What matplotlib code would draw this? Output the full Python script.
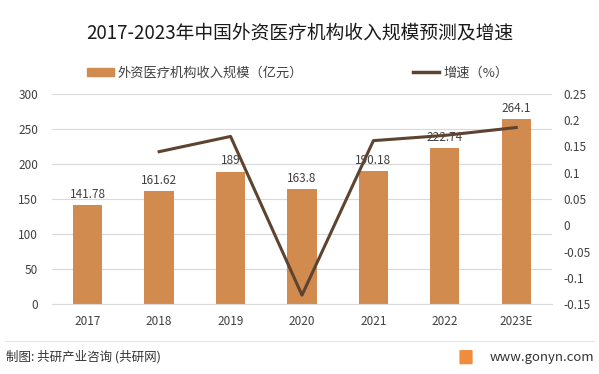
import matplotlib
matplotlib.use("Agg")
import matplotlib.pyplot as plt
from matplotlib.lines import Line2D
from matplotlib.patches import Patch, FancyBboxPatch

plt.rcParams['font.family'] = ['Noto Sans CJK SC', 'DejaVu Sans']

years = ["2017", "2018", "2019", "2020", "2021", "2022", "2023E"]
revenue = [141.78, 161.62, 189, 163.8, 190.18, 222.74, 264.1]
revenue_labels = ["141.78", "161.62", "189", "163.8", "190.18", "222.74", "264.1"]
growth_years = ["2018", "2019", "2020", "2021", "2022", "2023E"]
growth = [0.14, 0.169, -0.133, 0.161, 0.171, 0.186]

bar_color = "#D18B4E"
line_color = "#5E4330"
text_color = "#404040"
grid_color = "#D9D9D9"

fig = plt.figure(figsize=(5.99, 3.74), dpi=100)
ax = fig.add_axes([0.0868, 0.187, 0.8347, 0.562])
x = list(range(len(years)))
ax.bar(x, revenue, width=0.41, color=bar_color, zorder=2)
for xi, v, lab in zip(x, revenue, revenue_labels):
    ax.text(xi, v + 6, lab, ha='center', va='bottom', fontsize=8.5, color=text_color, zorder=4)
ax.set_ylim(0, 300)
ax.set_yticks(range(0, 301, 50))
ax.set_xlim(-0.5, len(years) - 0.5)
ax.set_xticks(x)
ax.set_xticklabels(years)
ax.yaxis.grid(True, color=grid_color, linewidth=0.8, zorder=0)
ax.set_axisbelow(True)
for s in ax.spines.values():
    s.set_visible(False)
ax.spines['bottom'].set_visible(True)
ax.spines['bottom'].set_color(grid_color)
ax.tick_params(axis='both', length=0, labelsize=8.5, colors=text_color)
ax.tick_params(axis='x', pad=8)
ax.tick_params(axis='y', pad=10)

ax2 = ax.twinx()
gx = [years.index(g) for g in growth_years]
ax2.plot(gx, growth, color=line_color, linewidth=2.2, zorder=3)
ax2.set_ylim(-0.15, 0.25)
ax2.set_yticks([-0.15, -0.1, -0.05, 0, 0.05, 0.1, 0.15, 0.2, 0.25])
ax2.set_yticklabels(["-0.15", "-0.1", "-0.05", "0", "0.05", "0.1", "0.15", "0.2", "0.25"])
for s in ax2.spines.values():
    s.set_visible(False)
ax2.tick_params(axis='y', length=0, labelsize=8.5, colors=text_color, pad=8)

fig.text(0.5, 0.912, "2017-2023年中国外资医疗机构收入规模预测及增速", ha='center', va='center',
         fontsize=13.5, color="#1a1a1a")

handles = [Patch(color=bar_color), Line2D([0], [0], color=line_color, linewidth=2.5)]
fig.legend(handles, ["外资医疗机构收入规模（亿元）", "增速（%）"], loc='center',
           bbox_to_anchor=(0.497, 0.805), ncol=2, frameon=False, fontsize=9.5,
           handlelength=2.0, handleheight=0.6, columnspacing=8.3, handletextpad=0.3,
           labelcolor=text_color)

fig.add_artist(Line2D([0.008, 0.992], [0.088, 0.088], color="#E6E6E6", linewidth=0.8))
fig.text(0.01, 0.045, "制图: 共研产业咨询 (共研网)", ha='left', va='center', fontsize=9, color="#333333")
fig.text(0.992, 0.045, "www.gonyn.com", ha='right', va='center', fontsize=9.5, color="#333333")
fig.add_artist(FancyBboxPatch((0.769, 0.028), 0.018, 0.034, boxstyle="round,pad=0.002",
                              facecolor="#F08C3C", edgecolor="none", transform=fig.transFigure))

fig.savefig("out.png", dpi=100)
